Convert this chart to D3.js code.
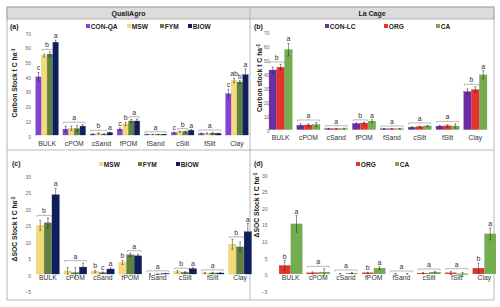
<!DOCTYPE html>
<html>
<head>
<meta charset="utf-8">
<script src="https://cdn.jsdelivr.net/npm/d3@7"></script>
<style>
  body { margin: 0; background: #fff; }
  text { font-family: "Liberation Sans", Arial, sans-serif; }
</style>
</head>
<body>
<script>
// categories shared by all four panels
const categories = ["BULK", "cPOM", "cSand", "fPOM", "fSand", "cSilt", "fSilt", "Clay"];

// (a) QualiAgro carbon stock
const seriesA = ["CON-QA", "MSW", "FYM", "BIOW"];
const valuesA = [
  [39.5, 4, 0.6, 4, 0.4, 1.6, 1, 28],
  [54, 4.5, 1, 7.5, 0.4, 2.2, 1.1, 37],
  [55, 4.3, 0.6, 9.5, 0.4, 2.3, 1.2, 36],
  [63, 6, 1.6, 9.5, 0.4, 3.2, 1, 41]
];
const errorsA = [
  [3, 2, 0.3, 0.8, 0.1, 0.4, 0.3, 3],
  [1, 1.5, 0.5, 1.2, 0.1, 0.3, 0.3, 1.5],
  [1.5, 2, 0.3, 1.2, 0.1, 0.3, 0.5, 1],
  [1.5, 1, 0.4, 1.2, 0.1, 0.5, 0.3, 4]
];
const lettersA = [
  [[0, 0, "c"], [1, 2, "b"], [3, 3, "a"]],
  [[0, 3, "a"]],
  [[0, 2, "b"], [3, 3, "a"]],
  [[0, 0, "c"], [1, 1, "b"], [2, 3, "a"]],
  [[0, 3, "a"]],
  [[0, 0, "c"], [1, 2, "b"], [3, 3, "a"]],
  [[0, 3, "a"]],
  [[0, 0, "c"], [1, 1, "ab"], [2, 2, "b"], [3, 3, "a"]]
];

// (b) La Cage carbon stock
const seriesB = ["CON-LC", "ORG", "CA"];
const valuesB = [
  [42.5, 3, 0.5, 4.2, 0.5, 1.6, 2.4, 27],
  [44.5, 3.2, 0.5, 4.6, 0.5, 2, 2.6, 28.5],
  [57, 3.5, 0.6, 6, 0.5, 2.5, 2.5, 39]
];
const errorsB = [
  [2, 1, 0.3, 0.5, 0.2, 0.4, 0.5, 2],
  [2, 0.8, 0.3, 0.5, 0.2, 0.5, 0.8, 2],
  [4.5, 1.5, 0.3, 1, 0.2, 0.4, 1.5, 3]
];
const lettersB = [
  [[0, 1, "b"], [2, 2, "a"]],
  [[0, 2, "a"]],
  [[0, 2, "a"]],
  [[0, 1, "b"], [2, 2, "a"]],
  [[0, 2, "a"]],
  [[0, 2, "a"]],
  [[0, 2, "a"]],
  [[0, 1, "b"], [2, 2, "a"]]
];

// (c) QualiAgro delta SOC
const seriesC = ["MSW", "FYM", "BIOW"];
const valuesC = [
  [14.7, 0.9, 0.8, 3.5, 0, 0.7, 0.3, 9],
  [15.5, 0.4, 0.4, 5.8, -0.1, 0.5, 0.3, 8.2],
  [24, 2.1, 1.5, 5.5, 0.1, 1.6, 0.3, 12.8]
];
const errorsC = [
  [1.5, 1, 0.3, 0.6, 0.1, 0.3, 0.2, 1.5],
  [1.5, 1.5, 0.2, 0.5, 0.1, 0.2, 0.2, 1.5],
  [2, 1.2, 0.3, 0.5, 0.1, 0.3, 0.2, 2.5]
];
const lettersC = [
  [[0, 1, "b"], [2, 2, "a"]],
  [[0, 2, "a"]],
  [[0, 0, "b"], [1, 1, "c"], [2, 2, "a"]],
  [[0, 0, "b"], [1, 2, "a"]],
  [[0, 2, "a"]],
  [[0, 1, "b"], [2, 2, "a"]],
  [[0, 2, "a"]],
  [[0, 1, "b"], [2, 2, "a"]]
];

// (d) La Cage delta SOC
const seriesD = ["ORG", "CA"];
const valuesD = [
  [2.5, 0.3, 0, 0.3, 0, 0.2, 0.3, 1.7],
  [15, 0.5, 0.2, 1.7, 0, 0.5, -0.2, 12]
];
const errorsD = [
  [1.5, 0.3, 0.1, 0.2, 0.1, 0.2, 0.5, 1.5],
  [2.5, 1, 0.2, 0.4, 0.1, 0.2, 0.6, 1.8]
];
const lettersD = [
  [[0, 0, "b"], [1, 1, "a"]],
  [[0, 1, "a"]],
  [[0, 1, "a"]],
  [[0, 0, "b"], [1, 1, "a"]],
  [[0, 1, "a"]],
  [[0, 1, "a"]],
  [[0, 1, "a"]],
  [[0, 0, "b"], [1, 1, "a"]]
];

const ticksStock = [0, 10, 20, 30, 40, 50, 60, 70];
const ticksDelta = [-5, 0, 5, 10, 15, 20, 25, 30];

const colors = {
  "CON-QA": "#8443d6",
  "MSW": "#f6d97a",
  "FYM": "#5e8240",
  "BIOW": "#0f1e5e",
  "CON-LC": "#6b2fa3",
  "ORG": "#e6322b",
  "CA": "#74ad4e"
};

const width = 500, height = 307;

const svg = d3.select("body").append("svg")
  .attr("width", width)
  .attr("height", height);

// frame and header
svg.append("rect").attr("x", 7).attr("y", 7).attr("width", 487).attr("height", 12)
  .attr("fill", "#dcdcdc").attr("stroke", "#a6a6a6").attr("stroke-width", 0.8);
svg.append("rect").attr("x", 7).attr("y", 7).attr("width", 487).attr("height", 293)
  .attr("fill", "none").attr("stroke", "#a6a6a6").attr("stroke-width", 0.8);
svg.append("line").attr("x1", 250).attr("x2", 250).attr("y1", 7).attr("y2", 300)
  .attr("stroke", "#a6a6a6").attr("stroke-width", 0.8);
svg.append("line").attr("x1", 7).attr("x2", 494).attr("y1", 150).attr("y2", 150)
  .attr("stroke", "#a6a6a6").attr("stroke-width", 0.8);
svg.selectAll(".site")
  .data([["QualiAgro", 128.5], ["La Cage", 372]])
  .join("text")
  .attr("x", d => d[1]).attr("y", 15.8)
  .attr("text-anchor", "middle")
  .attr("font-size", 7).attr("font-weight", "bold").attr("fill", "#222")
  .text(d => d[0]);

function drawPanel(p) {
  const g = svg.append("g");
  const x0 = d3.scaleBand().domain(categories).range(p.xr).paddingInner(0.17).paddingOuter(0.085);
  const x1 = d3.scaleBand().domain(p.series).range([0, x0.bandwidth()]).paddingInner(0.05);
  const y = d3.scaleLinear().domain([p.ticks[0], p.ticks[p.ticks.length - 1]]).range(p.yr);

  // panel label
  g.append("text").attr("x", p.labelX).attr("y", p.labelY)
    .attr("font-size", 7).attr("font-weight", "bold").attr("fill", "#222").text(p.label);

  // y tick labels
  const yAxis = g.append("g")
    .attr("transform", `translate(${p.tickX},0)`)
    .call(d3.axisLeft(y).tickValues(p.ticks).tickSize(0).tickPadding(0));
  yAxis.select(".domain").remove();
  yAxis.selectAll("text").attr("font-size", 5).attr("fill", "#666")
    .attr("font-family", "Liberation Sans, Arial, sans-serif").attr("dy", "0.6em");

  // y title
  const t = g.append("text")
    .attr("transform", `translate(${p.titleX},${p.titleY}) rotate(-90)`)
    .attr("text-anchor", "middle")
    .attr("font-size", 6.8).attr("font-weight", "bold").attr("fill", "#222");
  t.append("tspan").text(p.title);
  t.append("tspan").attr("font-size", 4.5).attr("dy", -2.5).text("-1");

  // category labels
  const xAxis = g.append("g")
    .attr("transform", `translate(0,${p.catY})`)
    .call(d3.axisBottom(x0).tickSize(0).tickPadding(0));
  xAxis.select(".domain").remove();
  xAxis.selectAll("text").attr("font-size", 6.8).attr("fill", "#333")
    .attr("font-family", "Liberation Sans, Arial, sans-serif").attr("dy", "0.71em");

  // bars
  const rows = [];
  categories.forEach((c, ci) => {
    p.series.forEach((s, si) => {
      rows.push({ c, ci, s, v: p.values[si][ci], e: p.errors[si][ci] });
    });
  });
  g.selectAll(".bar").data(rows).join("rect")
    .attr("x", d => x0(d.c) + x1(d.s))
    .attr("width", x1.bandwidth())
    .attr("y", d => y(Math.max(0, d.v)))
    .attr("height", d => Math.abs(y(d.v) - y(0)))
    .attr("fill", d => colors[d.s])
    .attr("stroke", d => d3.color(colors[d.s]).darker(0.6))
    .attr("stroke-width", 0.3);

  // error bars
  const cx = d => x0(d.c) + x1(d.s) + x1.bandwidth() / 2;
  g.selectAll(".err").data(rows).join("path")
    .attr("d", d => {
      const a = y(d.v + d.e), b = y(d.v - d.e), m = cx(d);
      return `M${m},${a}V${b}M${m - 1},${a}H${m + 1}M${m - 1},${b}H${m + 1}`;
    })
    .attr("stroke", "#222").attr("stroke-width", 0.5).attr("fill", "none");

  // significance letters and brackets
  const groups = [];
  categories.forEach((c, ci) => {
    p.letters[ci].forEach(([from, to, label]) => {
      let top = Infinity;
      for (let si = from; si <= to; si++) {
        top = Math.min(top, y(Math.max(p.values[si][ci], 0) + p.errors[si][ci]));
      }
      const xa = x0(c) + x1(p.series[from]) + 0.5;
      const xb = x0(c) + x1(p.series[to]) + x1.bandwidth() - 0.5;
      groups.push({ from, to, label, top, xa, xb });
    });
  });
  const brackets = groups.filter(d => d.to > d.from);
  g.selectAll(".brk").data(brackets).join("path")
    .attr("d", d => {
      const yy = d.top - 2.5, m = (d.xa + d.xb) / 2;
      return `M${d.xa},${yy + 1.5}V${yy}H${d.xb}V${yy + 1.5}M${m},${yy}V${yy - 1}`;
    })
    .attr("stroke", "#777").attr("stroke-width", 0.5).attr("fill", "none");
  g.selectAll(".let").data(groups).join("text")
    .attr("x", d => (d.xa + d.xb) / 2)
    .attr("y", d => d.to > d.from ? d.top - 4.5 : d.top - 2)
    .attr("text-anchor", "middle")
    .attr("font-size", 7).attr("fill", "#333")
    .text(d => d.label);

  // legend
  const lg = g.selectAll(".leg").data(p.series).join("g")
    .attr("transform", (d, i) => `translate(${p.legendX[i]},${p.legendY})`);
  lg.append("rect").attr("x", 0).attr("y", -4.5).attr("width", 4).attr("height", 4)
    .attr("fill", d => colors[d]);
  lg.append("text").attr("x", 4.8).attr("y", 0)
    .attr("font-size", 6.6).attr("font-weight", "bold").attr("fill", "#222")
    .text(d => d);
}

drawPanel({
  label: "(a)", labelX: 10, labelY: 29,
  series: seriesA, values: valuesA, errors: errorsA, letters: lettersA,
  ticks: ticksStock, yr: [135, 32], xr: [33.5, 250.5], tickX: 31, catY: 141.5,
  title: "Carbon Stock t C ha", titleX: 17, titleY: 83,
  legendX: [86, 127, 160, 188], legendY: 28.5
});
drawPanel({
  label: "(b)", labelX: 254, labelY: 29,
  series: seriesB, values: valuesB, errors: errorsB, letters: lettersB,
  ticks: ticksStock, yr: [129.5, 31.5], xr: [266.7, 489.3], tickX: 269.5, catY: 135.5,
  title: "Carbon stock  t C ha", titleX: 262, titleY: 78,
  legendX: [325, 384, 436], legendY: 28.5
});
drawPanel({
  label: "(c)", labelX: 12, labelY: 166,
  series: seriesC, values: valuesC, errors: errorsC, letters: lettersC,
  ticks: ticksDelta, yr: [290.5, 175], xr: [34.2, 253.8], tickX: 31, catY: 275,
  title: "\u0394SOC  Stock t C ha", titleX: 17, titleY: 229,
  legendX: [99, 138, 176], legendY: 166.5
});
drawPanel({
  label: "(d)", labelX: 254, labelY: 166,
  series: seriesD, values: valuesD, errors: errorsD, letters: lettersD,
  ticks: ticksDelta, yr: [290.5, 174], xr: [276.8, 498.2], tickX: 267.5, catY: 275,
  title: "\u0394SOC Stock t C ha", titleX: 259, titleY: 205,
  legendX: [356, 395], legendY: 166.5
});
</script>
</body>
</html>
